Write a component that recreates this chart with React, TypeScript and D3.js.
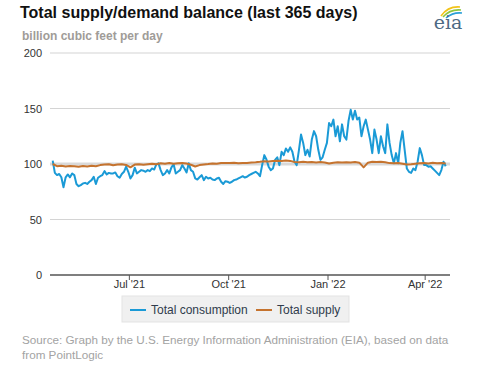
import React, { useRef, useEffect } from 'react';
import * as d3 from 'd3';

// daily series sampled every 2 days (consumption) and every 4 days (supply), starting 2021-04-21
const startDate = new Date(2021, 3, 21);

const consumption = [
  103, 92, 90, 91, 88, 79, 88, 90.6, 88, 91.5, 90, 82, 80, 81, 82.5, 83, 82, 84, 85.5, 88.5,
  82, 87.6, 89, 90, 93.6, 90.6, 92, 91.5, 91.5, 92.4, 89, 87.6, 91, 93, 97.6, 93, 87, 90, 96.7, 91.5,
  93, 94.5, 94, 93, 94.5, 93.6, 96, 95, 99.7, 100.6, 94.5, 90, 91.5, 94.5, 91.5, 97, 99.7, 91.5, 93, 94.5,
  99, 96, 92.4, 100.6, 94.5, 93, 87, 86, 88, 90, 85.5, 88.5, 87, 87.6, 86, 85.5, 87, 87.6, 84, 82,
  84.5, 84, 83, 84, 85.5, 86, 87, 88, 89, 87.8, 88.5, 90, 91, 92, 93, 91.5, 89, 99, 108, 104,
  97.6, 94.5, 96, 103.7, 106, 99, 111, 108, 114, 111, 115, 111, 102, 99, 112, 126.5, 119, 108, 112.8, 106.7,
  122, 129.6, 125, 112.8, 103.7, 106, 112.8, 119, 137, 134, 140, 125, 134, 120.4, 135.7, 125, 122, 138.7, 148.8, 140,
  147.9, 140, 141.8, 125, 134, 140, 131, 122, 109.8, 131, 122, 109.8, 125, 116, 109.8, 135.7, 119, 108, 100.6, 109.8,
  100.6, 119, 129.6, 112.8, 96, 93, 92, 96, 94.5, 102, 114.3, 108, 99, 99, 97.6, 98, 96, 94, 92, 90,
  94.5, 102, 98
];

const supply = [
  100, 98, 98.5, 97.8, 98.3, 98, 97.5, 98.2, 97.8, 98.5, 98, 99, 99.5, 99.8, 98.8, 99.5, 99.7, 99.2, 97, 99.5,
  99.8, 99.4, 99.8, 100.2, 99.8, 100.6, 100.3, 100.8, 100.2, 100.6, 100.9, 100.4, 99.3, 97.8, 99, 99.6, 100, 100.5, 100.3, 100.8,
  101, 100.8, 101.2, 100.6, 101, 100.8, 101.3, 101.6, 102, 102.5, 102.2, 102.6, 103, 102.7, 103.2, 102.8, 101.8, 101.6, 102, 101.5,
  101.8, 101.4, 101.7, 101.3, 100.5, 101.2, 101.5, 101.3, 101.6, 101.4, 101.8, 101.2, 97, 101.2, 102, 101.7, 102.1, 101.5, 100.8, 100.6,
  100.9, 100.3, 99.6, 99.8, 100.2, 100.6, 101, 100.5, 101.1, 100.7, 101, 100.5
];

const yTicks = [0, 50, 100, 150, 200];
const xTickDates = [new Date(2021, 6, 1), new Date(2021, 9, 1), new Date(2022, 0, 1), new Date(2022, 3, 1)];
const xTickLabels = ["Jul '21", "Oct '21", "Jan '22", "Apr '22"];
const seriesNames = ['Total consumption', 'Total supply'];
const seriesColors = ['#1a9ad6', '#c5732e'];

const font = "Arial, 'Liberation Sans', sans-serif";

const App = () => {
  const svgRef = useRef(null);

  useEffect(() => {
    const svg = d3.select(svgRef.current);
    svg.selectAll('*').remove();

    const addDays = (n) => d3.timeDay.offset(startDate, n);
    const consData = consumption.map((v, i) => ({ date: addDays(i * 2), value: v }));
    const supData = supply.map((v, i) => ({ date: addDays(i * 4), value: v }));

    const x = d3.scaleTime()
      .domain([new Date(2021, 3, 18, 12), new Date(2022, 3, 24)])
      .range([50, 450]);

    const y = d3.scaleLinear().domain([0, 200]).range([275, 53]);

    // title
    svg.append('text')
      .attr('x', 20).attr('y', 18)
      .attr('font-family', font).attr('font-weight', 'bold').attr('font-size', 16)
      .attr('fill', '#111')
      .text('Total supply/demand balance (last 365 days)');

    svg.append('text')
      .attr('x', 22).attr('y', 40)
      .attr('font-family', font).attr('font-weight', 'bold').attr('font-size', 12)
      .attr('fill', '#a09c98')
      .text('billion cubic feet per day');

    // eia logo
    const logo = svg.append('g');
    logo.append('path').attr('d', 'M441,16 Q448,6 460,7').attr('fill', 'none').attr('stroke', '#f2c318').attr('stroke-width', 1.6);
    logo.append('path').attr('d', 'M443,17 Q450,9 461,10').attr('fill', 'none').attr('stroke', '#8dc63f').attr('stroke-width', 1.6);
    logo.append('path').attr('d', 'M446,18 Q453,12 462,13').attr('fill', 'none').attr('stroke', '#2a9fd8').attr('stroke-width', 1.6);
    logo.append('text')
      .attr('x', 448).attr('y', 29).attr('text-anchor', 'middle')
      .attr('font-family', "'DejaVu Serif', 'Liberation Serif', serif").attr('font-size', 19)
      .attr('fill', '#4d6a84')
      .text('eia');

    // gridlines
    svg.append('g')
      .selectAll('line')
      .data(yTicks.filter(t => t > 0))
      .join('line')
      .attr('x1', 50).attr('x2', 450)
      .attr('y1', d => y(d)).attr('y2', d => y(d))
      .attr('stroke', d => (d === 100 ? '#d9d9d9' : '#d4d4d4'))
      .attr('stroke-width', d => (d === 100 ? 3 : 1.2));

    svg.append('g')
      .selectAll('text')
      .data(yTicks)
      .join('text')
      .attr('x', 42).attr('y', d => y(d) + 4)
      .attr('text-anchor', 'end')
      .attr('font-family', font).attr('font-size', 11)
      .attr('fill', '#333')
      .text(d => d);

    // x axis
    svg.append('line')
      .attr('x1', 50).attr('x2', 450)
      .attr('y1', y(0)).attr('y2', y(0))
      .attr('stroke', '#555').attr('stroke-width', 1.5);

    svg.append('g')
      .selectAll('line')
      .data(xTickDates)
      .join('line')
      .attr('x1', d => x(d)).attr('x2', d => x(d))
      .attr('y1', y(0)).attr('y2', y(0) + 5)
      .attr('stroke', '#555').attr('stroke-width', 1);

    svg.append('g')
      .selectAll('text')
      .data(xTickDates)
      .join('text')
      .attr('x', d => x(d)).attr('y', 288)
      .attr('text-anchor', 'middle')
      .attr('font-family', font).attr('font-size', 11)
      .attr('fill', '#333')
      .text((d, i) => xTickLabels[i]);

    const line = d3.line()
      .x(d => x(d.date))
      .y(d => y(d.value));

    svg.append('path')
      .datum(consData)
      .attr('fill', 'none')
      .attr('stroke', seriesColors[0])
      .attr('stroke-width', 2)
      .attr('stroke-linejoin', 'round')
      .attr('d', line);

    svg.append('path')
      .datum(supData)
      .attr('fill', 'none')
      .attr('stroke', seriesColors[1])
      .attr('stroke-width', 2)
      .attr('stroke-linejoin', 'round')
      .attr('d', line);

    // legend
    const legend = svg.append('g');
    legend.append('rect')
      .attr('x', 122).attr('y', 296).attr('width', 227).attr('height', 26)
      .attr('fill', '#f0f0f0').attr('stroke', '#e3e3e3');
    const legendX = [130, 256];
    seriesNames.forEach((name, i) => {
      legend.append('line')
        .attr('x1', legendX[i]).attr('x2', legendX[i] + 16)
        .attr('y1', 310).attr('y2', 310)
        .attr('stroke', seriesColors[i]).attr('stroke-width', 2);
      legend.append('text')
        .attr('x', legendX[i] + 21).attr('y', 314)
        .attr('font-family', font).attr('font-size', 12)
        .attr('fill', '#2f3b4c')
        .text(name);
    });

    // source
    const src = svg.append('text')
      .attr('font-family', font).attr('font-size', 11.7)
      .attr('fill', '#a3a3a3');
    src.append('tspan').attr('x', 22).attr('y', 344)
      .text('Source: Graph by the U.S. Energy Information Administration (EIA), based on data');
    src.append('tspan').attr('x', 22).attr('y', 359)
      .text('from PointLogic');
  }, []);

  return (
    <svg ref={svgRef} width={477} height={367}
      style={{ position: 'absolute', left: 0, top: 0, background: '#fff' }} />
  );
};

export default App;
